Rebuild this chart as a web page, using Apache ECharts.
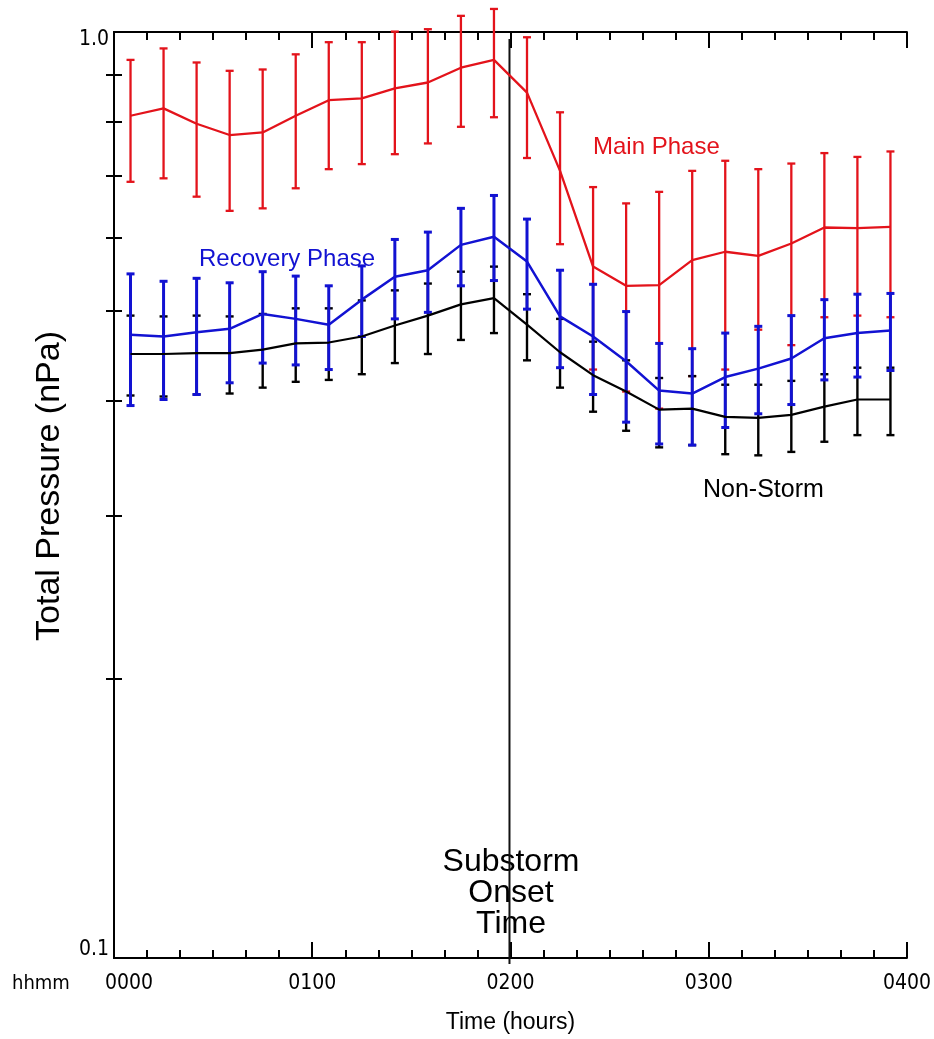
<!DOCTYPE html>
<html>
<head>
<meta charset="utf-8">
<script src="https://cdn.jsdelivr.net/npm/echarts@6/dist/echarts.min.js"></script>
<style>
html,body{margin:0;padding:0;background:#fff;overflow:hidden;}
#chart{width:934px;height:1039px;}
</style>
</head>
<body>
<div id="chart"></div>
<script>
// Time of each bin centre, minutes after 0000
const minutes = [5,15,25,35,45,55,65,75,85,95,105,115,125,135,145,155,165,175,185,195,205,215,225,235];
// Main Phase (red): mean and error-bar ends, nPa
const mainMean = [0.812,0.827,0.796,0.774,0.779,0.812,0.844,0.848,0.869,0.882,0.915,0.933,0.860,0.708,0.558,0.532,0.533,0.567,0.579,0.573,0.591,0.615,0.614,0.616];
const mainHigh = [0.933,0.960,0.927,0.908,0.911,0.946,0.975,0.975,1.001,1.007,1.041,1.059,0.987,0.819,0.680,0.653,0.672,0.708,0.726,0.711,0.721,0.740,0.733,0.743];
const mainLow  = [0.689,0.695,0.664,0.641,0.645,0.678,0.711,0.720,0.738,0.758,0.790,0.809,0.731,0.590,0.432,0.409,0.392,0.425,0.432,0.477,0.459,0.492,0.494,0.492];
// Recovery Phase (blue)
const recMean = [0.471,0.469,0.474,0.478,0.496,0.490,0.483,0.514,0.544,0.553,0.589,0.601,0.565,0.493,0.469,0.441,0.410,0.407,0.424,0.433,0.444,0.467,0.473,0.476];
const recHigh = [0.548,0.538,0.542,0.536,0.551,0.545,0.532,0.559,0.597,0.608,0.645,0.666,0.628,0.553,0.534,0.499,0.461,0.455,0.473,0.481,0.494,0.514,0.521,0.522];
const recLow  = [0.395,0.401,0.406,0.418,0.439,0.437,0.432,0.469,0.490,0.498,0.532,0.539,0.502,0.434,0.406,0.379,0.359,0.358,0.374,0.387,0.396,0.421,0.424,0.431];
// Non-Storm (black)
const nsMean = [0.449,0.449,0.450,0.450,0.454,0.461,0.462,0.469,0.482,0.494,0.508,0.516,0.483,0.451,0.426,0.409,0.391,0.392,0.384,0.383,0.386,0.394,0.401,0.401];
const nsHigh = [0.494,0.493,0.494,0.493,0.496,0.503,0.503,0.513,0.526,0.535,0.551,0.558,0.521,0.490,0.463,0.442,0.423,0.425,0.416,0.416,0.420,0.427,0.434,0.434];
const nsLow  = [0.405,0.404,0.406,0.407,0.413,0.419,0.421,0.427,0.439,0.449,0.465,0.473,0.442,0.413,0.389,0.371,0.356,0.358,0.350,0.349,0.352,0.361,0.367,0.367];
// Axis ticks / labels
const xTickLabels = {0:'0000',60:'0100',120:'0200',180:'0300',240:'0400'};
const yMinorTicks = [0.2,0.3,0.4,0.5,0.6,0.7,0.8,0.9];
const onsetMinute = 120;

const RED = '#e3131b', BLUE = '#1212d2', BLACK = '#000000';
const NARROW = "'Liberation Sans Narrow','DejaVu Sans Condensed','Arial Narrow','Liberation Sans',Arial,sans-serif";
const SANS = "'Liberation Sans',Arial,Helvetica,sans-serif";

function errRender(color, w, cap) {
  return function (params, api) {
    const x = api.value(0);
    const t = api.coord([x, api.value(2)]);
    const b = api.coord([x, api.value(1)]);
    const st = {stroke: color, lineWidth: w};
    return {type: 'group', children: [
      {type: 'line', shape: {x1: t[0], y1: t[1], x2: b[0], y2: b[1]}, style: st},
      {type: 'line', shape: {x1: t[0] - cap, y1: t[1], x2: t[0] + cap, y2: t[1]}, style: st},
      {type: 'line', shape: {x1: b[0] - cap, y1: b[1], x2: b[0] + cap, y2: b[1]}, style: st}
    ]};
  };
}
function bars(low, high) { return minutes.map((m, i) => [m, low[i], high[i]]); }
function pts(vals) { return minutes.map((m, i) => [m, vals[i]]); }

const chart = echarts.init(document.getElementById('chart'), null, {renderer: 'canvas', width: 934, height: 1039});

const xCommon = {
  type: 'value', min: 0, max: 240, interval: 60,
  axisLine: {show: true, lineStyle: {color: BLACK, width: 2}},
  axisTick: {show: true, inside: true, length: 16, lineStyle: {color: BLACK, width: 2}},
  minorTick: {show: true, splitNumber: 6, length: 8, lineStyle: {color: BLACK, width: 2}},
  splitLine: {show: false}
};
const yCommon = {
  type: 'log', logBase: 10, min: 0.1, max: 1,
  axisLine: {show: true, lineStyle: {color: BLACK, width: 2}},
  axisTick: {show: true, inside: true, length: 8, customValues: yMinorTicks, lineStyle: {color: BLACK, width: 2}},
  minorTick: {show: false},
  splitLine: {show: false}
};

chart.setOption({
  animation: false,
  backgroundColor: '#ffffff',
  grid: {left: 114, top: 32, width: 800, height: 928, containLabel: false},
  xAxis: [
    Object.assign({}, xCommon, {
      position: 'bottom',
      name: 'Time (hours)', nameLocation: 'middle', nameGap: 53,
      nameTextStyle: {fontFamily: SANS, fontSize: 23, color: BLACK},
      axisLabel: {
        show: true, margin: 15, color: BLACK, fontFamily: NARROW, fontSize: 21,
        formatter: function (v) {
          const s = xTickLabels[v] || '';
          return v === 0 ? '{first|' + s + '}' : s;
        },
        rich: {first: {padding: [0, 0, 0, 30], fontFamily: NARROW, fontSize: 21, color: BLACK}}
      }
    }),
    Object.assign({}, xCommon, {position: 'top', axisLabel: {show: false}})
  ],
  yAxis: [
    Object.assign({}, yCommon, {
      position: 'left',
      name: 'Total Pressure (nPa)', nameLocation: 'middle', nameGap: 47, nameRotate: 90,
      nameTextStyle: {fontFamily: SANS, fontSize: 34, color: BLACK, padding: [0, 0, 0, 18]},
      axisLabel: {
        show: true, margin: 5, color: BLACK, fontFamily: NARROW, fontSize: 21,
        formatter: function (v) { return v > 0.5 ? '{t|1.0}' : '{b|0.1}'; },
        rich: {
          t: {padding: [16, 0, 0, 0], fontFamily: NARROW, fontSize: 21, color: BLACK},
          b: {padding: [0, 0, 16, 0], fontFamily: NARROW, fontSize: 21, color: BLACK}
        }
      }
    }),
    Object.assign({}, yCommon, {position: 'right', axisLabel: {show: false}})
  ],
  series: [
    {type: 'custom', name: 'onset', renderItem: function (params, api) {
        const t = api.coord([api.value(0), api.value(2)]);
        const b = api.coord([api.value(0), api.value(1)]);
        return {type: 'line', shape: {x1: t[0] - 1, y1: t[1] + 7, x2: b[0] - 1, y2: b[1] + 6},
                style: {stroke: '#111', lineWidth: 2}};
      }, data: [[onsetMinute, 0.1, 1]], encode: {x: 0, y: [1, 2]}, clip: false, silent: true},
    {type: 'custom', name: 'Main Phase bars', renderItem: errRender(RED, 2.3, 4),
      data: bars(mainLow, mainHigh), encode: {x: 0, y: [1, 2]}, clip: false, silent: true},
    {type: 'line', name: 'Main Phase', data: pts(mainMean), showSymbol: false, symbol: 'none',
      lineStyle: {color: RED, width: 2.3}, silent: true},
    {type: 'custom', name: 'Non-Storm bars', renderItem: errRender(BLACK, 2.4, 4),
      data: bars(nsLow, nsHigh), encode: {x: 0, y: [1, 2]}, clip: false, silent: true},
    {type: 'line', name: 'Non-Storm', data: pts(nsMean), showSymbol: false, symbol: 'none',
      lineStyle: {color: BLACK, width: 2.2}, silent: true},
    {type: 'custom', name: 'Recovery Phase bars', renderItem: errRender(BLUE, 3, 4),
      data: bars(recLow, recHigh), encode: {x: 0, y: [1, 2]}, clip: false, silent: true},
    {type: 'line', name: 'Recovery Phase', data: pts(recMean), showSymbol: false, symbol: 'none',
      lineStyle: {color: BLUE, width: 2.5}, silent: true}
  ],
  graphic: [
    {type: 'text', left: 593, top: 135, style: {text: 'Main Phase', fill: RED, font: '24px ' + SANS}},
    {type: 'text', left: 199, top: 247, style: {text: 'Recovery Phase', fill: BLUE, font: '24px ' + SANS}},
    {type: 'text', left: 703, top: 478, style: {text: 'Non-Storm', fill: BLACK, font: '25px ' + SANS}},
    {type: 'text', x: 511, y: 862, style: {text: 'Substorm', fill: BLACK, font: '32px ' + SANS, align: 'center', verticalAlign: 'middle'}},
    {type: 'text', x: 511, y: 893, style: {text: 'Onset', fill: BLACK, font: '32px ' + SANS, align: 'center', verticalAlign: 'middle'}},
    {type: 'text', x: 511, y: 924, style: {text: 'Time', fill: BLACK, font: '32px ' + SANS, align: 'center', verticalAlign: 'middle'}},
    {type: 'text', x: 12, y: 984, style: {text: 'hhmm', fill: BLACK, font: '20px ' + NARROW, align: 'left', verticalAlign: 'middle'}}
  ]
});
</script>
</body>
</html>
